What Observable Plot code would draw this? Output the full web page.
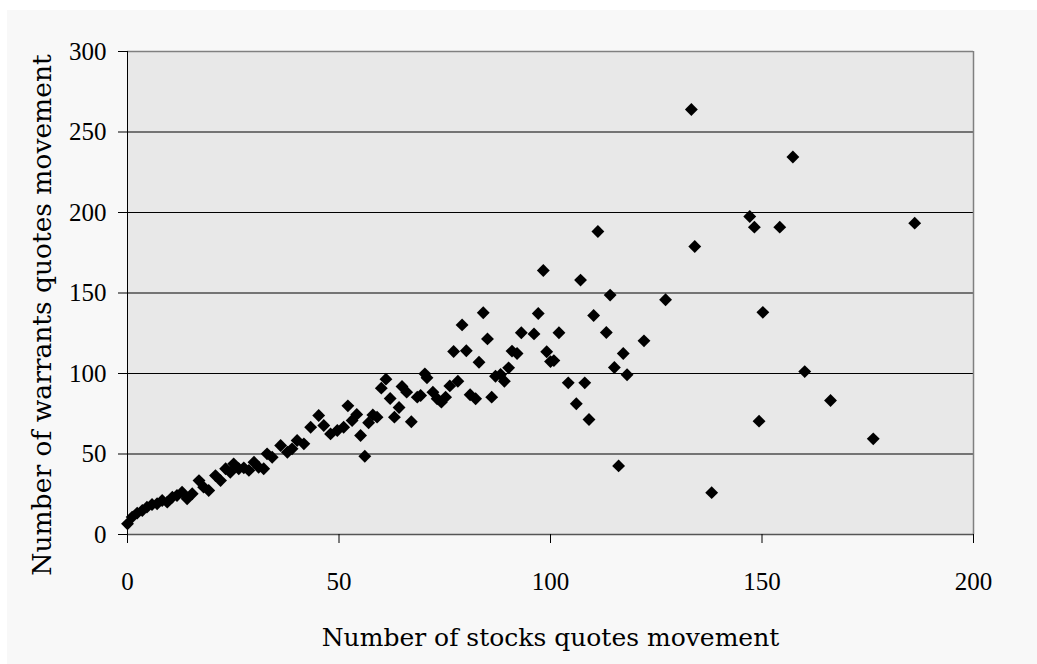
<!DOCTYPE html>
<html>
<head>
<meta charset="utf-8">
<script src="https://cdn.jsdelivr.net/npm/d3@7"></script>
<script src="https://cdn.jsdelivr.net/npm/@observablehq/plot@0.6"></script>
<style>
  html, body { margin: 0; padding: 0; background: #ffffff; }
  #panel { position: absolute; left: 7px; top: 10px; width: 1030px; height: 654px; background: #f8f8f8; }
</style>
</head>
<body>
<div id="panel"></div>
<script>
// Number of stocks quotes movement (x) vs number of warrants quotes movement (y)
const stocksMoves = [
  0, 1.1, 2.3, 3.5, 4.6, 5.8, 7, 8.2, 9.4, 10.6, 11.7, 12.9, 14.1, 15.3, 16.9, 18, 19.2, 20.8, 22, 23.2,
  24.3, 25.1, 26.3, 27.5, 28.7, 29.9, 31, 32.2, 33, 34.2, 36.2, 37.8, 38.9, 40.1, 41.7, 43.3, 45.2, 46.4, 48, 49.6,
  51.1, 52.1, 53.1, 54.2, 55.1, 56.1, 57, 58, 59, 60, 61.1, 62.1, 63.1, 64.2, 64.9, 66, 67.1, 68.5, 69.3, 70.3,
  70.8, 72.2, 73.2, 74.2, 75.2, 76.2, 77.1, 78.1, 79.1, 80.1, 81, 82.3, 83.1, 84.1, 85.1, 86.1, 87, 88.2, 89.1, 90.1,
  90.9, 92.1, 93.1, 96.1, 97.1, 98.3, 99.1, 100, 100.8, 102, 104.2, 106.1, 107.1, 108.1, 109.1, 110.2, 111.2, 113.2, 114.1, 115.1,
  116.1, 117.2, 118.1, 122.1, 127.2, 133.3, 134.1, 138.1, 147.1, 148.2, 149.3, 150.2, 154.2, 157.3, 160.1, 166.2, 176.3, 186.1
];
const warrantsMoves = [
  6.6, 10.8, 13.3, 14.9, 17, 18.6, 19.1, 21.1, 20.1, 23.2, 24.2, 26.3, 22.2, 25.3, 33.5, 29.4, 27.3, 36.6, 33.5, 40.8,
  38.7, 43.9, 40.8, 41.4, 39.8, 44.9, 41.8, 40.8, 50.1, 48, 55.3, 51.1, 53.2, 58.4, 56.3, 66.6, 73.9, 67.7, 62.5, 64.6,
  66.6, 79.9, 70.8, 74.6, 61.5, 48.6, 69.4, 74.3, 72.9, 90.9, 96.5, 84.5, 72.9, 78.9, 91.9, 88.4, 70, 85.3, 86.3, 99.8,
  97.3, 88.4, 84.3, 82.2, 85.3, 92.3, 113.7, 95.2, 130.2, 114.1, 86.8, 84.3, 107, 137.7, 121.5, 85.3, 98.3, 99.4, 95.2, 103.5,
  113.9, 112.4, 125.3, 124.6, 137.3, 164, 113.5, 107.4, 108, 125.3, 94.2, 81.2, 158, 94.2, 71.4, 136, 188.2, 125.5, 148.7, 103.7,
  42.6, 112.4, 99.2, 120.3, 145.8, 264, 178.9, 26, 197.5, 190.9, 70.4, 138, 190.9, 234.5, 101.2, 83.2, 59.4, 193.4
];
const xTicks = [0, 50, 100, 150, 200];
const yTicks = [0, 50, 100, 150, 200, 250, 300];
const gridLines = [50, 100, 150, 200, 250];
const xTitle = "Number of stocks quotes movement";
const yTitle = "Number of warrants quotes movement";

const points = stocksMoves.map((x, i) => ({x, y: warrantsMoves[i]}));

const chart = Plot.plot({
  width: 1030,
  height: 654,
  marginLeft: 120,
  marginTop: 41,
  marginRight: 64,
  marginBottom: 130,
  style: {background: "transparent", fontFamily: "'Liberation Serif', serif", fontSize: "25px", color: "#000", overflow: "visible"},
  x: {domain: [0, 200]},
  y: {domain: [0, 300]},
  marks: [
    Plot.frame({fill: "#e8e8e8", stroke: null}),
    Plot.ruleY(gridLines, {stroke: "#000", strokeWidth: 1}),
    Plot.ruleY([300], {stroke: "#808080", strokeWidth: 1.5}),
    Plot.ruleX([200], {stroke: "#808080", strokeWidth: 1.5}),
    Plot.ruleY([0], {stroke: "#555", strokeWidth: 1.5}),
    Plot.ruleX([0], {stroke: "#000", strokeWidth: 1}),
    Plot.dot(points, {x: "x", y: "y", symbol: "diamond2", r: 5.8, fill: "#000", stroke: null}),
    Plot.axisX(xTicks, {tickSize: 9, tickPadding: 29, label: null, stroke: "#000"}),
    Plot.axisY(yTicks, {tickSize: 9, tickPadding: 12, label: null, stroke: "#000"}),
    Plot.text([xTitle], {frameAnchor: "bottom", dy: 111, lineAnchor: "bottom", fontFamily: "'DejaVu Serif', serif", fontSize: 25, fill: "#000"}),
    Plot.text([yTitle], {frameAnchor: "left", textAnchor: "middle", rotate: -90, dx: -85, dy: 22, lineAnchor: "middle", fontFamily: "'DejaVu Serif', serif", fontSize: 26.5, fill: "#000"})
  ]
});
document.getElementById("panel").appendChild(chart);
</script>
</body>
</html>
